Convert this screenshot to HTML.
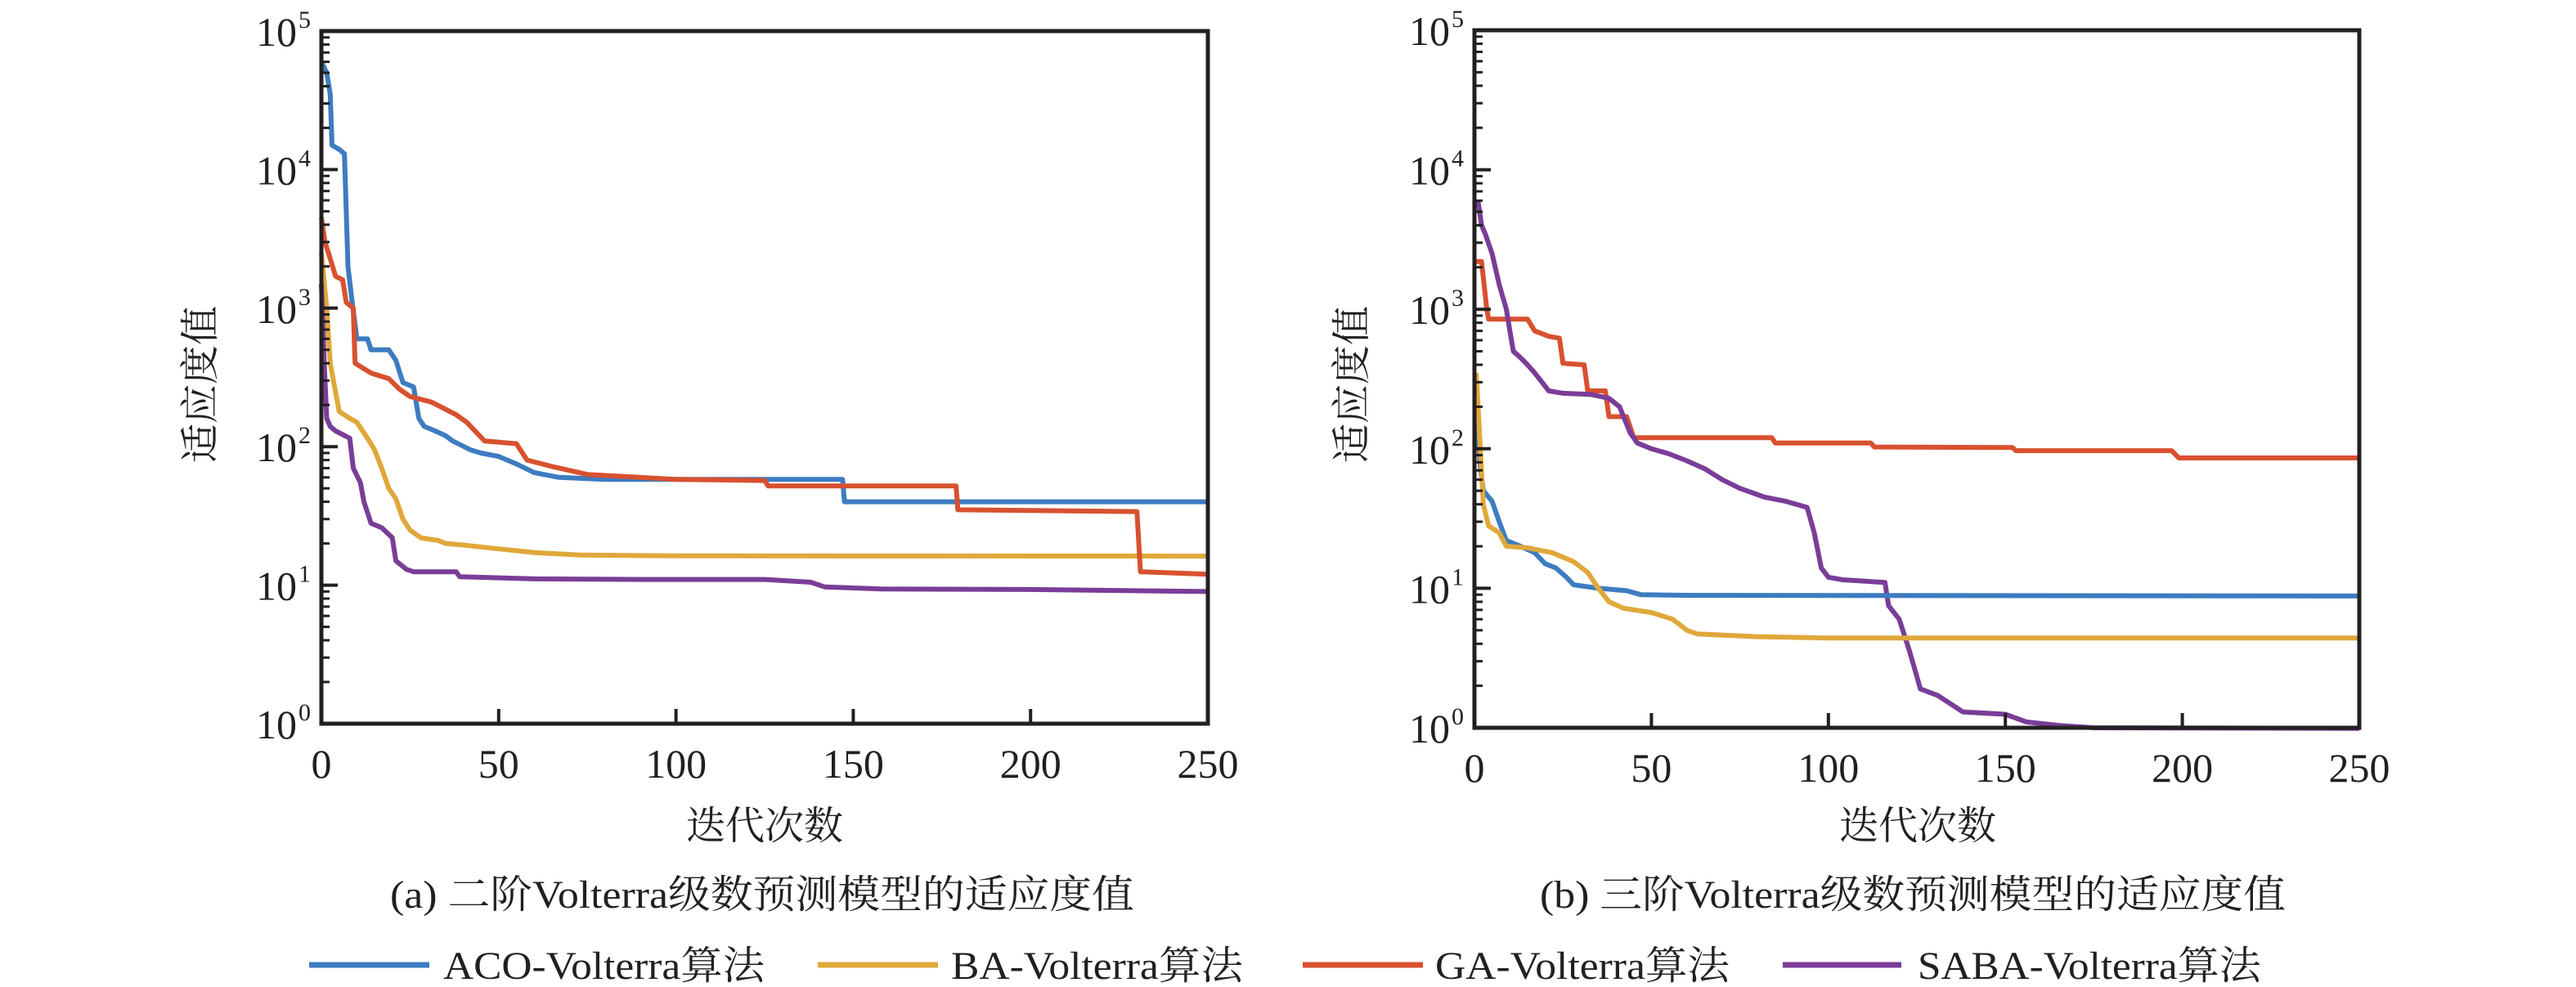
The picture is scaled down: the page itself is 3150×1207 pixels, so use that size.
<!DOCTYPE html>
<html><head><meta charset="utf-8"><style>
html,body{margin:0;padding:0;background:#fff;width:3150px;height:1207px;overflow:hidden}
text{font-family:"Liberation Serif","Noto Serif CJK SC","Noto Sans CJK SC",serif;fill:#231f20}
</style></head><body>
<svg id="s" width="3150" height="1207" viewBox="0 0 3150 1207" xmlns="http://www.w3.org/2000/svg">
<g id="g"></g>
<g font-size="48">
<text x="935" y="1015" text-anchor="middle" dominant-baseline="middle">迭代次数</text>
<text x="2345" y="1015" text-anchor="middle" dominant-baseline="middle">迭代次数</text>
<text transform="translate(250,470) rotate(-90)" text-anchor="middle" dominant-baseline="middle">适应度值</text>
<text transform="translate(1658,470) rotate(-90)" text-anchor="middle" dominant-baseline="middle">适应度值</text>
<text x="477" y="1110" textLength="910" lengthAdjust="spacingAndGlyphs">(a) 二阶Volterra级数预测模型的适应度值</text>
<text x="1883" y="1110" textLength="912" lengthAdjust="spacingAndGlyphs">(b) 三阶Volterra级数预测模型的适应度值</text>
<text x="542" y="1197" textLength="393" lengthAdjust="spacingAndGlyphs">ACO-Volterra算法</text>
<text x="1163" y="1197" textLength="357" lengthAdjust="spacingAndGlyphs">BA-Volterra算法</text>
<text x="1755" y="1197" textLength="360" lengthAdjust="spacingAndGlyphs">GA-Volterra算法</text>
<text x="2345" y="1197" textLength="420" lengthAdjust="spacingAndGlyphs">SABA-Volterra算法</text>
</g>
<g stroke-width="7">
<line x1="378" y1="1180" x2="525" y2="1180" stroke="#3d7cc0"/>
<line x1="1000" y1="1180" x2="1147" y2="1180" stroke="#e0a83a"/>
<line x1="1593" y1="1180" x2="1740" y2="1180" stroke="#d8512f"/>
<line x1="2180" y1="1180" x2="2325" y2="1180" stroke="#7a3d98"/>
</g>
</svg>
<script>
const NS="http://www.w3.org/2000/svg",G=document.getElementById('g');
function el(t,a){const e=document.createElementNS(NS,t);for(const k in a)e.setAttribute(k,a[k]);G.appendChild(e);return e;}
const C={aco:"#3d7cc0",ba:"#e0a83a",ga:"#d8512f",saba:"#7a3d98"};
function panel(L,T,R,B,series){
 const W=R-L,H=B-T;
 const X=v=>L+v/250*W, Y=v=>B-Math.log10(v)/5*H;
 for(const [c,d] of series){
  let s="";d.forEach((p,i)=>{s+=(i?"L":"M")+X(p[0]).toFixed(1)+" "+Y(p[1]).toFixed(1)});
  el('path',{d:s,fill:"none",stroke:C[c],"stroke-width":6,"stroke-linejoin":"round"});
 }
 el('rect',{x:L,y:T,width:W,height:H,fill:"none",stroke:"#231f20","stroke-width":5});
 for(let e=0;e<=5;e++){
  const y=Y(Math.pow(10,e));
  el('line',{x1:L,y1:y,x2:L+20,y2:y,stroke:"#231f20","stroke-width":4});
  const t=el('text',{x:L-30,y:y+18,"text-anchor":"end","font-size":50});t.textContent="10";
  const sp=el('text',{x:L-28,y:y-4,"font-size":30});sp.textContent=e;
  if(e<5)for(let m=2;m<10;m++){const yy=Y(m*Math.pow(10,e));el('line',{x1:L,y1:yy,x2:L+10,y2:yy,stroke:"#231f20","stroke-width":3});}
 }
 for(let v=0;v<=250;v+=50){
  const x=X(v);
  if(v>0&&v<250)el('line',{x1:x,y1:B,x2:x,y2:B-18,stroke:"#231f20","stroke-width":4});
  const t=el('text',{x:x,y:B+66,"text-anchor":"middle","font-size":50});t.textContent=v;
 }
}
panel(393,38,1477,885,[
 ["aco",[[0,6e4],[1.5,5e4],[2.5,3.5e4],[3,1.5e4],[5,1.4e4],[6.5,1.3e4],[7.5,2e3],[8.5,1.2e3],[10,600],[13,600],[14,500],[19,500],[21,420],[23,290],[26,270],[27.5,160],[29,140],[32,130],[35,120],[37,110],[42,95],[45,90],[50,85],[55,75],[60,65],[67,60],[80,58],[147,58],[147.5,40],[250,40]]],
 ["ba",[[0,2500],[1.5,1000],[2.5,400],[5,180],[8,160],[10,150],[13,115],[15,95],[17,70],[19,50],[21,42],[23,30],[25,25],[28,22],[33,21],[35,20],[40,19.5],[48,18.5],[60,17.2],[73,16.5],[100,16.3],[250,16.2]]],
 ["ga",[[0,4500],[1,3000],[2,2500],[4,1700],[6,1600],[7,1100],[9,1000],[9.5,400],[14,340],[19,310],[22,260],[25,230],[31,210],[38,170],[41,150],[46,110],[55,105],[58,80],[65,72],[75,63],[100,58],[125,57],[126,52],[179,52],[179.5,35],[230,34],[231,12.5],[250,12]]],
 ["saba",[[0,1500],[0.8,400],[1.5,160],[2.5,140],[4,130],[8,115],[9,70],[11,55],[12,40],[14,28],[17,26],[20,22],[21,15],[24,13],[26,12.5],[38,12.5],[39,11.5],[60,11.1],[90,11],[125,11],[138,10.5],[142,9.7],[158,9.4],[200,9.3],[250,9]]]
]);
panel(1803,37,2885,890,[
 ["ga",[[0.5,2200],[2,2200],[3.5,1000],[4,850],[15,850],[17,700],[21,640],[24,620],[25,410],[31,400],[32,260],[37,260],[38,170],[43,170],[45,120],[84,120],[85,110],[112,110],[113,103],[152,102],[153,97],[197,97],[199,86],[250,86]]],
 ["saba",[[1,6000],[2,4000],[3,3500],[5,2500],[7,1500],[9,1000],[10,700],[11,500],[13,450],[15,400],[17,350],[20,280],[21,260],[25,250],[33,245],[38,230],[41,200],[44,130],[46,110],[50,100],[55,92],[60,82],[65,72],[70,60],[75,52],[82,45],[88,42],[94,38],[96,25],[98,14],[100,12],[104,11.5],[116,11],[117,7.5],[120,6],[123,3.5],[126,1.9],[131,1.7],[138,1.3],[150,1.25],[156,1.1],[165,1.04],[175,1.0],[250,0.99]]],
 ["aco",[[1,150],[1.5,80],[2.5,50],[5,42],[7,30],[9,22],[13,20],[17,18],[20,15],[23,14],[26,12],[28,10.6],[35,10],[43,9.6],[47,9],[60,8.9],[250,8.8]]],
 ["ba",[[0.5,350],[1.5,120],[2.5,40],[4,28],[7,25],[9,20],[15,19.5],[22,18],[28,15.5],[32,13],[35,10],[38,8],[42,7.2],[50,6.7],[56,6],[60,5],[63,4.7],[80,4.5],[100,4.4],[250,4.4]]]
]);
</script>
</body></html>
